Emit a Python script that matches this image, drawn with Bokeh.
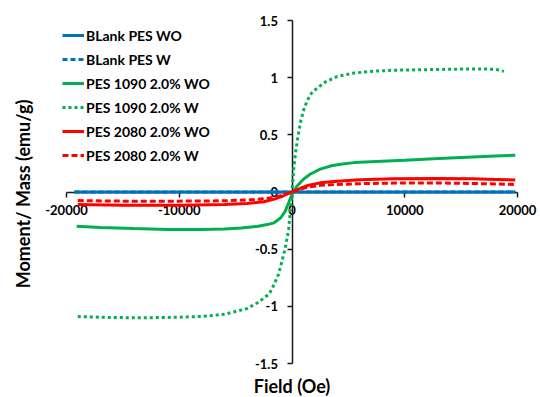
import numpy as np
from bokeh.plotting import figure
from bokeh.models import Legend, LegendItem, Label, FixedTicker, Range1d
from bokeh.embed import file_html
from bokeh.resources import INLINE

# ---- data ----
x_blank = [-19300, -10000, 0, 10000, 19800]
blank_wo = [0, 0, 0, 0, 0]
blank_w = [0, 0, 0, 0, 0]

x_p1090_wo = [-19100, -17000, -14000, -11000, -8000, -6000, -4500, -3000, -2200, -1600,
              -1000, -600, -300, 0, 450, 1000, 1600, 2500, 3500, 4300, 5500, 8000,
              10000, 13000, 16000, 18000, 19800]
p1090_wo = [-0.300, -0.310, -0.320, -0.327, -0.327, -0.323, -0.315, -0.300, -0.285, -0.270,
            -0.225, -0.167, -0.094, -0.020, 0.053, 0.110, 0.155, 0.200, 0.230, 0.243, 0.257, 0.270,
            0.278, 0.293, 0.307, 0.315, 0.322]

x_p1090_w = [-19000, -16000, -13000, -10000, -8000, -6000, -5000, -4000, -3000, -2000,
             -1600, -1200, -900, -600, -300, 0, 150, 300, 500, 800, 1100, 1600, 2000,
             3000, 4000, 5500, 7000, 9000, 12000, 15000, 17500, 18200, 18800]
p1090_w = [-1.090, -1.098, -1.100, -1.095, -1.088, -1.070, -1.045, -1.020, -0.965, -0.890,
           -0.810, -0.720, -0.610, -0.490, -0.330, 0.000, 0.200, 0.330, 0.470, 0.630, 0.740, 0.850, 0.890,
           0.965, 1.010, 1.040, 1.055, 1.065, 1.070, 1.075, 1.075, 1.070, 1.055]

x_p2080_wo = [-19000, -15000, -10000, -6000, -4000, -2500, -1500, -800, 0, 800, 1500,
              2500, 4000, 6000, 9000, 13000, 16000, 18000, 19800]
p2080_wo = [-0.110, -0.115, -0.115, -0.110, -0.100, -0.085, -0.060, -0.035, 0.000, 0.035, 0.060,
            0.080, 0.095, 0.108, 0.115, 0.117, 0.115, 0.110, 0.105]

x_p2080_w = [-19000, -15000, -10000, -6000, -4000, -2500, -1500, -800, 0, 800, 1500,
             2500, 4000, 6000, 9000, 13000, 16000, 18000, 19800]
p2080_w = [-0.075, -0.080, -0.080, -0.077, -0.070, -0.060, -0.045, -0.027, 0.000, 0.027, 0.045,
           0.058, 0.066, 0.073, 0.078, 0.079, 0.075, 0.070, 0.065]

x_ticks = [-20000, -10000, 0, 10000, 20000]
x_tick_labels = ["-20000", "-10000", "0", "10000", "20000"]
y_ticks = [-1.5, -1.0, -0.5, 0.0, 0.5, 1.0, 1.5]
y_tick_labels = ["-1.5", "-1", "-0.5", "0", "0.5", "1", "1.5"]

series_names = ["BLank PES WO", "BLank PES W", "PES 1090 2.0% WO",
                "PES 1090 2.0% W", "PES 2080 2.0% WO", "PES 2080 2.0% W"]

x_title = "Field (Oe)"
y_title = "Moment/ Mass (emu/g)"

# ---- layout / style ----
W, H = 540, 397
AX_LEFT, AX_RIGHT, AX_TOP, AX_BOTTOM = 66, 517, 20, 363   # pixel box of the axes' extent
FONT = "Lato"
BLUE = "#0070C0"
GREEN = "#00B050"
RED = "#FF0000"

x0, x1 = x_ticks[0], x_ticks[-1]
y0, y1 = y_ticks[0], y_ticks[-1]
sx = (AX_RIGHT - AX_LEFT) / (x1 - x0)
sy = (AX_BOTTOM - AX_TOP) / (y1 - y0)
x_range = Range1d(x0 - AX_LEFT / sx, x1 + (W - AX_RIGHT) / sx)
y_range = Range1d(y0 - (H - AX_BOTTOM) / sy, y1 + AX_TOP / sy)

p = figure(width=W, height=H, output_backend="svg", toolbar_location=None,
           x_range=x_range, y_range=y_range,
           min_border_left=0, min_border_right=0, min_border_top=0, min_border_bottom=0)
p.outline_line_color = None
p.xgrid.visible = False
p.ygrid.visible = False
p.background_fill_color = "white"
p.border_fill_color = "white"

for ax, ticks, labels in ((p.xaxis[0], x_ticks, x_tick_labels), (p.yaxis[0], y_ticks, y_tick_labels)):
    ax.fixed_location = 0
    ax.bounds = (ticks[0], ticks[-1])
    ax.level = "underlay"
    ax.ticker = FixedTicker(ticks=ticks)
    ax.major_label_overrides = {t: l for t, l in zip(ticks, labels)}
    ax.axis_line_color = "#1a1a1a"
    ax.axis_line_width = 1.5
    ax.major_tick_line_color = "#1a1a1a"
    ax.major_tick_line_width = 1.5
    ax.major_tick_out = 5
    ax.major_tick_in = 0
    ax.minor_tick_out = 0
    ax.minor_tick_in = 0
    ax.major_label_text_font = FONT
    ax.major_label_text_font_style = "bold"
    ax.major_label_text_font_size = "13px"
    ax.major_label_text_color = "black"
p.xaxis.major_label_standoff = 8
p.yaxis.major_label_standoff = 9

r1 = p.line(x_blank, blank_wo, line_color=BLUE, line_width=3)
r2 = p.line(x_blank, blank_w, line_color=BLUE, line_width=3, line_dash="5 3")
r3 = p.line(x_p1090_wo, p1090_wo, line_color=GREEN, line_width=3)
r4 = p.line(x_p1090_w, p1090_w, line_color=GREEN, line_width=3, line_dash="3 3")
r5 = p.line(x_p2080_wo, p2080_wo, line_color=RED, line_width=3)
r6 = p.line(x_p2080_w, p2080_w, line_color=RED, line_width=3, line_dash="6 3")

legend = Legend(items=[LegendItem(label=n, renderers=[r]) for n, r in
                       zip(series_names, [r1, r2, r3, r4, r5, r6])],
                location=(62, 232), glyph_width=22, glyph_height=20, label_height=20,
                label_standoff=2, spacing=4, padding=0, margin=0,
                border_line_color=None, background_fill_alpha=0,
                label_text_font=FONT, label_text_font_style="bold",
                label_text_font_size="14px", label_text_color="black")
p.add_layout(legend)

p.add_layout(Label(x=0, y=y0, y_offset=-22, text=x_title, text_align="center",
                   text_baseline="middle", text_font=FONT, text_font_style="bold",
                   text_font_size="18px", text_color="black"))
p.add_layout(Label(x=x0, y=0, x_offset=-44, y_offset=-2, angle=np.pi / 2, text=y_title,
                   text_align="center", text_baseline="middle", text_font=FONT,
                   text_font_style="bold", text_font_size="18px", text_color="black"))

open("out.html", "w").write(file_html(p, INLINE))
